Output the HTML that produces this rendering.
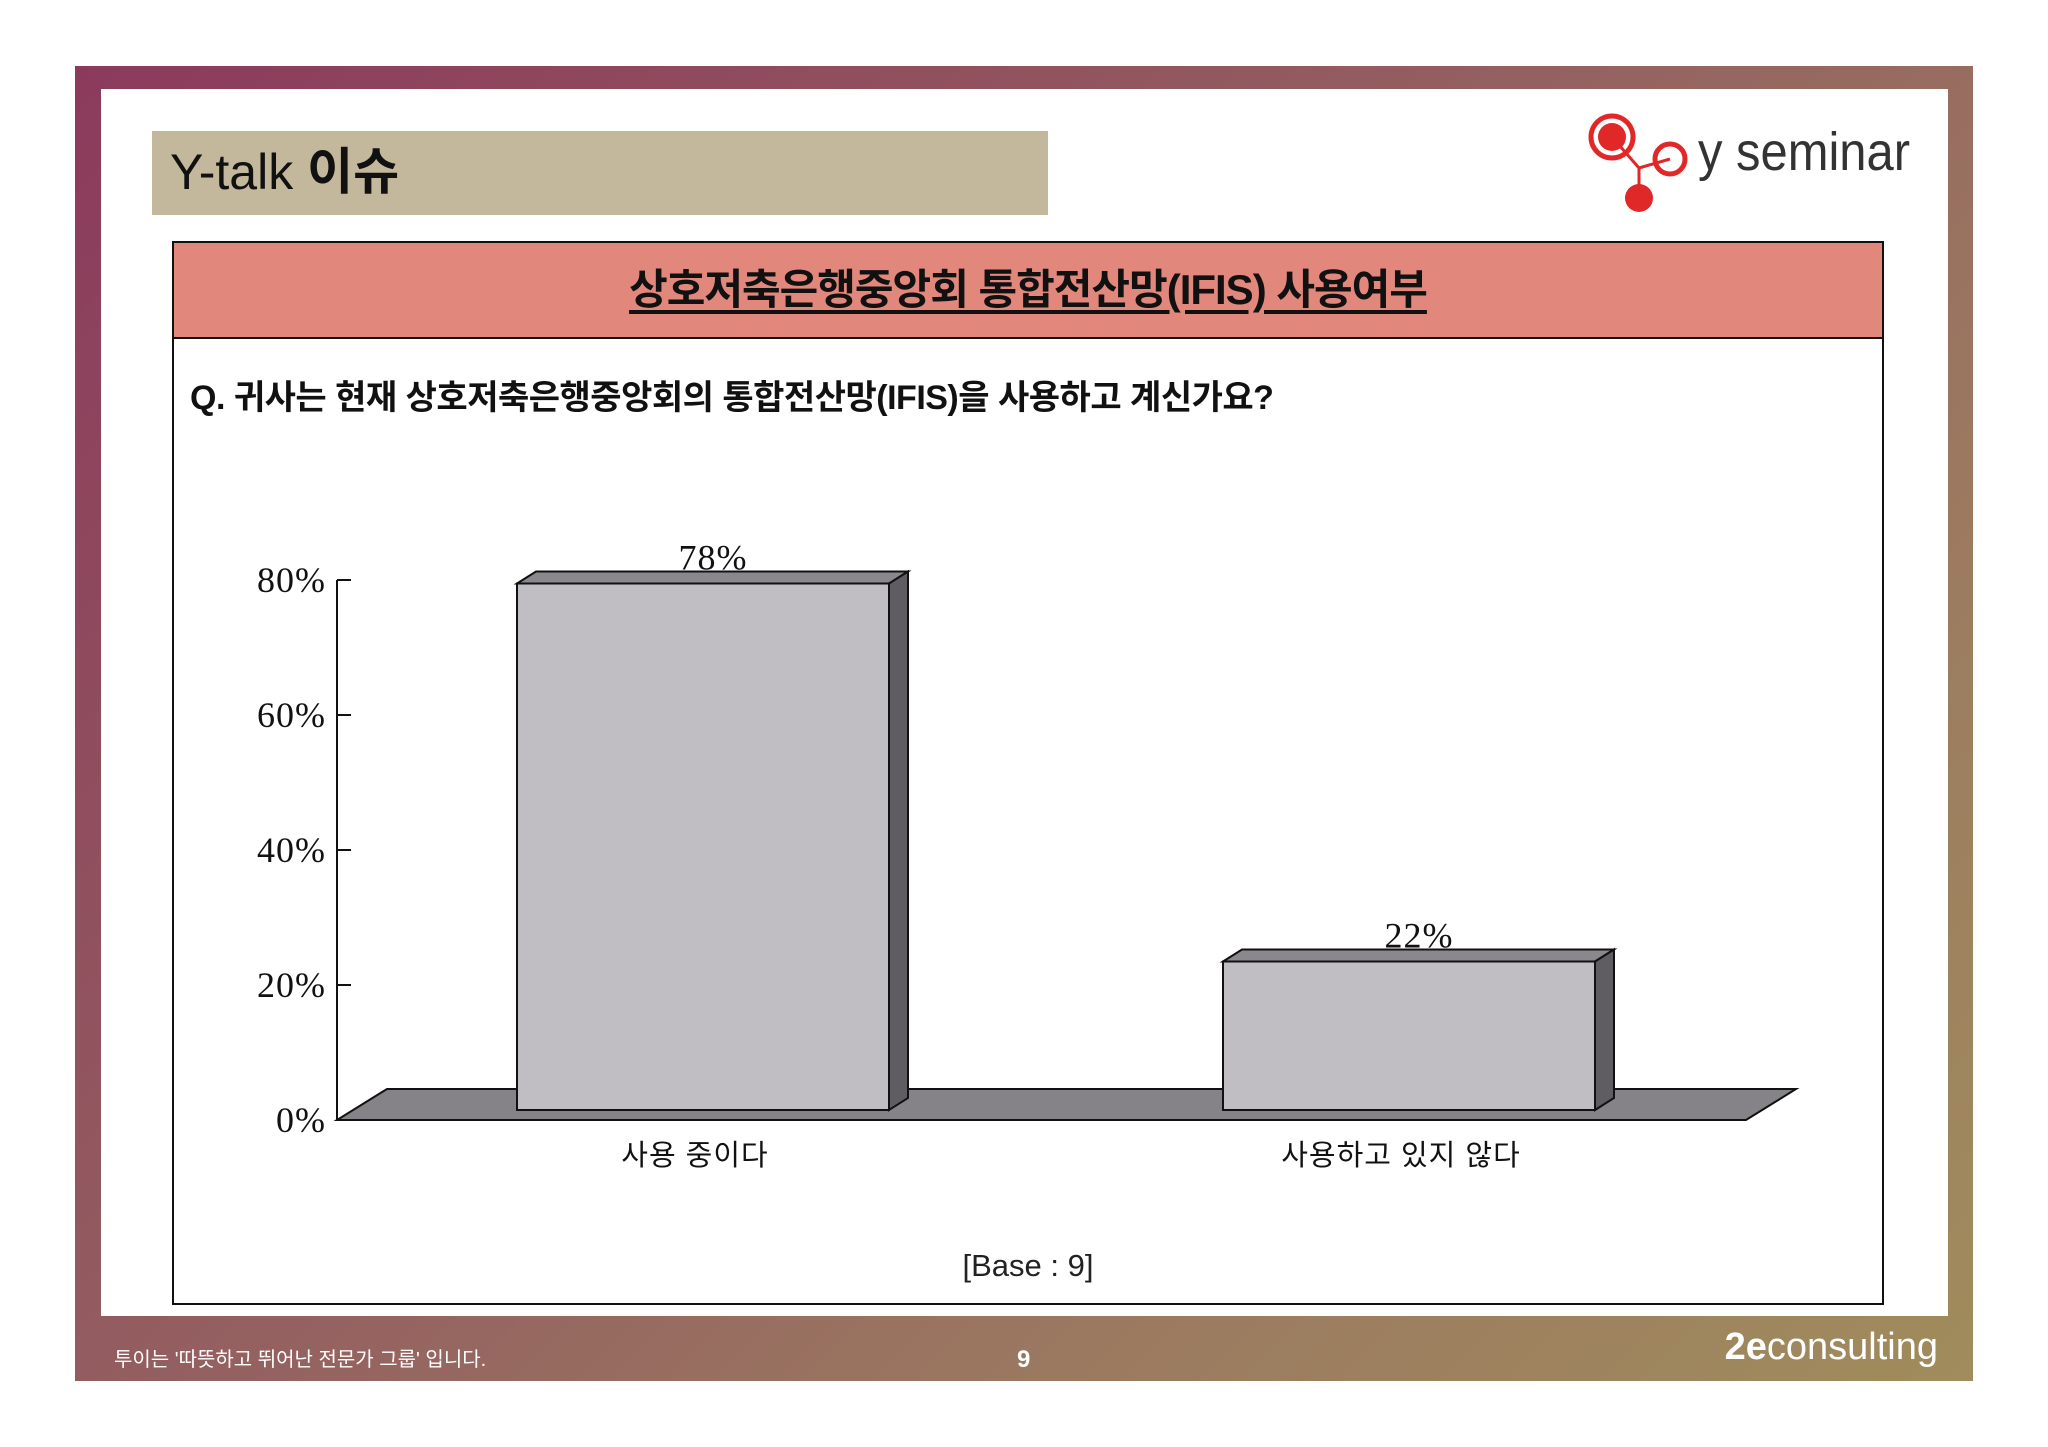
<!DOCTYPE html>
<html><head><meta charset="utf-8"><style>
body{margin:0;width:2048px;height:1447px;background:#fff;position:relative;overflow:hidden;font-family:"Liberation Sans","Noto Sans CJK KR",sans-serif}
.abs{position:absolute}
</style></head><body>
<div class="abs" style="left:75px;top:66px;width:1898px;height:1315px;background:linear-gradient(135deg,#8b3a5c 0%,#946060 45%,#9c7c60 75%,#a08c5c 100%)"></div>
<div class="abs" style="left:101px;top:89px;width:1847px;height:1227px;background:#fff"></div>
<div class="abs" style="left:152px;top:131px;width:896px;height:84px;background:#c4b89c"></div>
<div class="abs" style="left:170px;top:140px;font-size:50px;line-height:64px;color:#111">Y-talk <b>이슈</b></div>
<svg class="abs" style="left:1580px;top:100px" width="360" height="130">
<line x1="32" y1="37" x2="59" y2="68" stroke="#e02828" stroke-width="3"/><line x1="59" y1="68" x2="90" y2="59" stroke="#e02828" stroke-width="3"/><line x1="59" y1="68" x2="59" y2="98" stroke="#e02828" stroke-width="3"/>
<circle cx="32" cy="37" r="21" fill="none" stroke="#e02828" stroke-width="5"/><circle cx="32" cy="37" r="14" fill="#e02828"/>
<circle cx="90" cy="59" r="15" fill="none" stroke="#e02828" stroke-width="5"/>
<circle cx="59" cy="98" r="14" fill="#e02828"/>
<text x="118" y="70" font-family="Liberation Sans,sans-serif" font-size="54" fill="#333" textLength="212" lengthAdjust="spacingAndGlyphs">y seminar</text></svg>
<div class="abs" style="left:172px;top:241px;width:1708px;height:1060px;border:2px solid #111;background:#fff"></div>
<div class="abs" style="left:174px;top:243px;width:1708px;height:94px;background:#e2877b;border-bottom:2px solid #111;text-align:center;font-size:42px;line-height:94px;font-weight:bold;color:#111"><span style="text-decoration:underline;text-underline-offset:6px;letter-spacing:-1px">상호저축은행중앙회 통합전산망(IFIS) 사용여부</span></div>
<div class="abs" style="left:190px;top:370px;font-size:34px;font-weight:bold;color:#111;letter-spacing:-0.5px">Q. 귀사는 현재 상호저축은행중앙회의 통합전산망(IFIS)을 사용하고 계신가요?</div>
<svg class="abs" style="left:0;top:0" width="2048" height="1447" id="chart"></svg>
<div class="abs" style="left:928px;top:1248px;width:200px;text-align:center;font-size:31px;color:#222">[Base : 9]</div>
<div class="abs" style="left:114px;top:1343px;font-size:20px;color:#fff">투이는 '따뜻하고 뛰어난 전문가 그룹' 입니다.</div>
<div class="abs" style="left:1017px;top:1346px;font-size:24px;font-weight:bold;color:#fff">9</div>
<div class="abs" style="left:1690px;top:1326px;width:248px;text-align:right;font-size:38px;color:#fff"><b>2e</b>consulting</div>
<script>
const categories=["사용 중이다","사용하고 있지 않다"];
const values=[78,22];
const valueLabels=["78%","22%"];
const ticks=[0,20,40,60,80];
const tickLabels=["0%","20%","40%","60%","80%"];
const svg=document.getElementById('chart');const NS="http://www.w3.org/2000/svg";
const X0=337,Y0=1120,PX=6.75;
const y=v=>Y0-v*PX;
const barLeft=[517,1223],BW=372,DX=19,DY=12,BASE=1110;
function mk(t,a,p){const e=document.createElementNS(NS,t);for(const k in a)e.setAttribute(k,a[k]);(p||svg).appendChild(e);return e;}
let f=mk('polygon',{points:`${X0},${Y0} 1746,${Y0} 1796,1089 387,1089`,fill:'#858387',stroke:'#111','stroke-width':2});

let ax=mk('line',{x1:X0,y1:y(80),x2:X0,y2:Y0,stroke:'#111','stroke-width':2});

ticks.forEach((t,i)=>{let l=mk('line',{x1:X0,y1:y(t),x2:X0+14,y2:y(t),stroke:'#111','stroke-width':2});

let tx=mk('text',{x:326,y:y(t)+12,'text-anchor':'end','font-family':'Liberation Serif,serif','font-size':36,fill:'#111','letter-spacing':'1'});tx.textContent=tickLabels[i];
});
values.forEach((v,i)=>{const L=barLeft[i],R=L+BW,T=BASE-v*PX;
let g=mk('g',{});
mk('polygon',{points:`${L},${T} ${L+DX},${T-DY} ${R+DX},${T-DY} ${R},${T}`,fill:'#8a888c',stroke:'#111','stroke-width':2},g);
mk('polygon',{points:`${R},${T} ${R+DX},${T-DY} ${R+DX},${BASE-DY} ${R},${BASE}`,fill:'#5f5d62',stroke:'#111','stroke-width':2},g);
mk('rect',{x:L,y:T,width:BW,height:BASE-T,fill:'#c0bec2',stroke:'#111','stroke-width':2},g);
let vl=mk('text',{x:L+BW/2+10,y:T-14,'text-anchor':'middle','font-family':'Liberation Serif,serif','font-size':36,fill:'#111','letter-spacing':'1'});vl.textContent=valueLabels[i];

let cl=mk('text',{x:L+BW/2-8,y:1165,'text-anchor':'middle','font-family':'Liberation Sans,Noto Sans CJK KR,sans-serif','font-size':29,fill:'#111','letter-spacing':'1'});cl.textContent=categories[i];
});
</script>
</body></html>
